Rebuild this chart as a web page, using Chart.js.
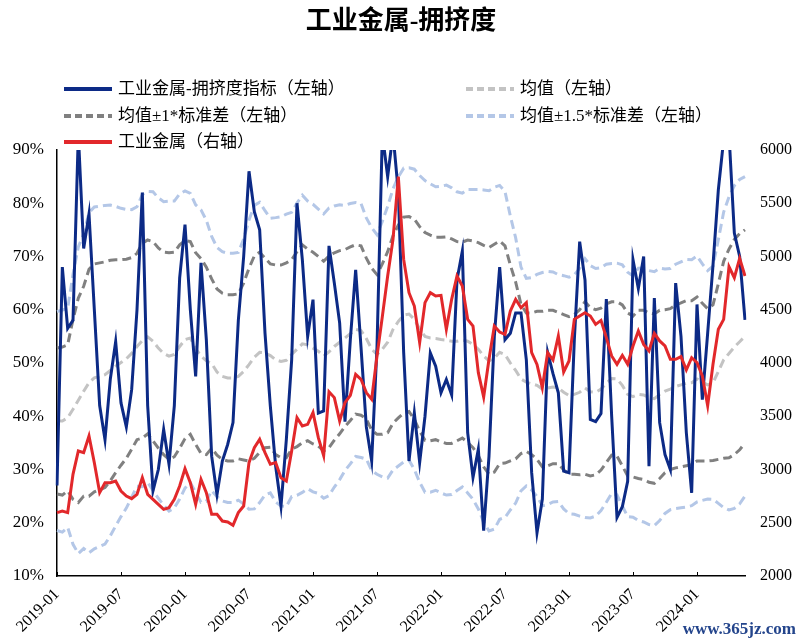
<!DOCTYPE html>
<html>
<head>
<meta charset="utf-8">
<script src="https://cdn.jsdelivr.net/npm/chart.js@4.4.1/dist/chart.umd.min.js"></script>
<style>
  html, body { margin: 0; padding: 0; background: #fff; }
</style>
</head>
<body>
<canvas id="c" width="803" height="644"></canvas>
<script>
// 工业金属-拥挤度, half-month samples
const chartTitle = '工业金属-拥挤度';
const xTickLabels = ['2019-01', '2019-07', '2020-01', '2020-07', '2021-01', '2021-07',
  '2022-01', '2022-07', '2023-01', '2023-07', '2024-01'];
const leftTicks = [10, 20, 30, 40, 50, 60, 70, 80, 90];
const rightTicks = [2000, 2500, 3000, 3500, 4000, 4500, 5000, 5500, 6000];

// crowding index, % (left axis)
const crowdVals = [
  27, 68, 56.5, 58, 93, 71.5, 78, 60, 42, 35.6,
  47, 54, 42.5, 38, 45, 60, 82, 42, 26, 30,
  37.5, 31, 42, 66, 76, 60, 47.5, 68.8, 54.4, 32.5,
  25.3, 31.6, 34.7, 38.8, 58, 70, 86, 78.4, 75, 55.6,
  41.9, 30.6, 23.1, 35.6, 50.6, 80, 69.4, 55, 61.9, 40.6,
  41, 72, 65, 57.5, 39, 54.4, 67.5, 53, 38, 31.6,
  53, 93, 85, 93, 82, 52, 31.6, 40.6, 31.3, 40,
  51.9, 49.4, 44.4, 46.9, 44, 65.6, 71, 36.9, 28.5, 33.8,
  18.5, 32.5, 55, 68, 54.4, 55.6, 59.4, 59.4, 50.6, 29.4,
  18.1, 24.4, 52, 48, 44.4, 29.7, 29.4, 54.4, 72.8, 65.6,
  39.4, 39, 40.5, 62, 40, 21, 23, 27.8, 69.4, 64,
  70, 30.6, 62.2, 38.8, 32.8, 30, 65, 55, 36.9, 25.6,
  61, 43.1, 55.6, 68.4, 82.5, 92, 93, 74.4, 70, 58.1
];

// index level (right axis)
const metalVals = [
  2595, 2610, 2595, 2955, 3174, 3158, 3315, 3064, 2783, 2876,
  2876, 2892, 2798, 2751, 2726, 2767, 2923, 2767, 2720, 2673,
  2626, 2642, 2720, 2845, 3008, 2876, 2673, 2908, 2783, 2579,
  2579, 2516, 2507, 2476, 2595, 2657, 3064, 3205, 3283, 3158,
  3049, 3064, 2923, 2892, 3174, 3487, 3409, 3424, 3534, 3299,
  3130, 3730, 3675, 3456, 3628, 3697, 3894, 3847, 3722, 3659,
  4066, 4435, 4817, 5161, 5750, 4973, 4660, 4535, 4191, 4567,
  4660, 4629, 4635, 4316, 4598, 4817, 4723, 4410, 4347, 3909,
  3680, 4035, 4347, 4291, 4269, 4488, 4598, 4519, 4566, 4097,
  3987, 3768, 4097, 4028, 4254, 3916, 4019, 4410, 4441, 4472,
  4441, 4363, 4400, 4238, 4066, 3988, 4072, 3988, 4160, 4300,
  4175, 4113, 4279, 4207, 4160, 4035, 4035, 4060, 3935, 4050,
  4004, 3878, 3600, 3988, 4316, 4410, 4904, 4801, 4982, 4817
];

// rolling mean and standard deviation of the index, %
const meanVals = [
  39.1, 39.1, 39.7, 41.3, 43, 44.7, 46.3, 47.2, 47.5, 47.8,
  48.6, 49.4, 50.1, 50.8, 51.8, 53.1, 54.2, 54.9, 54.1, 52.8,
  51.8, 51.3, 51.6, 53.1, 54.4, 54.7, 52.7, 51.3, 50.4, 49.9,
  48.3, 47.5, 47.2, 47.2, 47.5, 48.4, 49.7, 51.1, 52, 51.9,
  51.4, 50.6, 50.3, 50.5, 51.6, 52.6, 53.6, 53.4, 52.8, 52.2,
  51.3, 52.1, 53.1, 53.9, 54.7, 55.5, 56.3, 56.1, 54.6, 52.6,
  51.6, 52.6, 53.9, 56.3, 57.8, 59, 59.2, 58.2, 56.4, 55,
  54.7, 54.6, 54.4, 54.3, 54.1, 54.1, 54.3, 54.1, 53.5, 52.6,
  51.3, 50.4, 50.9, 52, 51.6, 50, 48.6, 47, 46.4, 46.1,
  45.8, 45.1, 45.3, 45.5, 45.3, 44.5, 43.9, 44.1, 44.5, 45.3,
  44.6, 44.5, 45.1, 46.2, 47.1, 47, 45.8, 44.1, 43.7, 44.1,
  44, 43.5, 43.3, 44.1, 44.7, 45.1, 45.6, 45.9, 46.2, 46.3,
  47, 46.4, 45.9, 46.3, 48.4, 50.6, 51.8, 53, 54, 55
];
const sdVals = [
  13.7, 13.9, 13.7, 16.9, 19.2, 19.7, 21.3, 21.4, 21.3, 21.2,
  20.7, 20, 19.3, 18.7, 18, 17.5, 18.3, 18.2, 18.7, 18.8,
  19, 19.4, 19.2, 19.1, 18.6, 18.1, 18, 18.3, 17.6, 15.9,
  15.6, 15.6, 15.6, 15.6, 15.5, 16.6, 18.1, 19, 18.8, 17.8,
  17.2, 17.8, 18.1, 18.3, 17.8, 18.3, 18.6, 18, 18, 17.8,
  17.8, 18, 17.6, 17.2, 16.6, 16.3, 15.9, 15.9, 15.1, 15.2,
  15, 16, 17, 17.6, 18.1, 18.4, 18.3, 18.8, 19.2, 19.5,
  19.3, 19, 19.2, 19.4, 19.2, 18.7, 18.4, 19, 19.4, 20,
  20.8, 21.3, 21.4, 20.9, 20.4, 18.4, 16.6, 14, 13, 13.3,
  13.9, 14.6, 14.6, 14.4, 14.2, 14.6, 14.8, 15, 15.5, 16.2,
  15.8, 15.5, 15.2, 14.9, 14.4, 14.5, 15.1, 15.3, 15.1, 15.8,
  15.9, 15.9, 15.9, 15.8, 15.3, 15.1, 15.3, 15.4, 15.5, 15.4,
  15.4, 14.8, 14.3, 14.6, 16.5, 18.5, 19.6, 20.2, 20.3, 20
];

// x categories: 1st and 16th of each month from 2019-01
const dates = [];
for (let y = 2019; y <= 2024; y++) {
  for (let mo = 1; mo <= 12; mo++) {
    const mm = String(mo).padStart(2, '0');
    dates.push(y + '-' + mm + '-01', y + '-' + mm + '-16');
  }
}
dates.length = crowdVals.length;

const band = (k) => meanVals.map((m, i) => +(m + k * sdVals[i]).toFixed(2));

const serif = '"Liberation Serif", "Noto Sans CJK SC", serif';
const dash = [9, 5];

function line(label, data, color, extra) {
  return Object.assign({
    label: label,
    data: data,
    borderColor: color,
    backgroundColor: color,
    borderWidth: 3,
    pointRadius: 0,
    tension: 0,
    fill: false,
    yAxisID: 'y'
  }, extra || {});
}

const datasets = [
  line('工业金属-拥挤度指标（左轴）', crowdVals, '#0c2a86', { order: 1 }),
  line('均值（左轴）', meanVals, '#c3c3c3', { borderDash: dash, order: 4 }),
  line('均值±1*标准差（左轴）', band(1), '#808080', { borderDash: dash, order: 3 }),
  line('均值±1*标准差（左轴）', band(-1), '#808080', { borderDash: dash, order: 3 }),
  line('均值±1.5*标准差（左轴）', band(1.5), '#b4c7e7', { borderDash: dash, order: 5 }),
  line('均值±1.5*标准差（左轴）', band(-1.5), '#b4c7e7', { borderDash: dash, order: 5 }),
  line('工业金属（右轴）', metalVals, '#e2282b', { yAxisID: 'y1', order: 0 })
];

// which datasets show in the legend, row by row, two columns
const legendOrder = [0, 1, 2, 4, 6];

const decor = {
  id: 'decor',
  afterDatasetsDraw(chart) {
    const ctx = chart.ctx;
    const xs = chart.scales.x;
    const bottom = chart.chartArea.bottom;
    ctx.save();
    ctx.strokeStyle = '#000';
    ctx.lineWidth = 1;
    xs.ticks.forEach((t, i) => {
      if (t.label === null || t.label === undefined || t.label === '') return;
      const px = Math.round(xs.getPixelForTick(i)) + 0.5;
      ctx.beginPath();
      ctx.moveTo(px, bottom);
      ctx.lineTo(px, bottom - 4);
      ctx.stroke();
    });
    ctx.restore();
  },
  afterDraw(chart) {
    const ctx = chart.ctx;
    ctx.save();
    // title
    ctx.fillStyle = '#000';
    ctx.font = 'bold 26px ' + serif;
    ctx.textAlign = 'center';
    ctx.textBaseline = 'middle';
    ctx.fillText(chartTitle, 401, 22);

    // legend
    const cols = [64, 466];
    const rows = [89, 116, 142];
    ctx.font = '17px ' + serif;
    ctx.textAlign = 'left';
    legendOrder.forEach((di, n) => {
      const ds = chart.data.datasets[di];
      const x = cols[n % 2];
      const y = rows[Math.floor(n / 2)];
      ctx.strokeStyle = ds.borderColor;
      ctx.lineWidth = 4;
      ctx.setLineDash(ds.borderDash ? [7, 4] : []);
      ctx.beginPath();
      ctx.moveTo(x, y);
      ctx.lineTo(x + 48, y);
      ctx.stroke();
      ctx.setLineDash([]);
      ctx.fillStyle = '#000';
      ctx.fillText(ds.label, x + 54, y + 1);
    });

    // site mark, bottom right
    ctx.font = 'bold 17px ' + serif;
    ctx.fillStyle = '#24458c';
    ctx.textAlign = 'right';
    ctx.fillText('www.365jz.com', 796, 630);
    ctx.restore();
  }
};

new Chart(document.getElementById('c'), {
  type: 'line',
  data: { labels: dates, datasets: datasets },
  options: {
    responsive: false,
    animation: false,
    devicePixelRatio: 1,
    layout: { padding: { top: 150, left: 0, right: 0, bottom: 0 } },
    plugins: {
      legend: { display: false },
      title: { display: false },
      tooltip: { enabled: false }
    },
    scales: {
      x: {
        type: 'category',
        grid: { display: false, drawTicks: false },
        border: { display: true, color: '#000', width: 1.5 },
        ticks: {
          autoSkip: false,
          minRotation: 45,
          maxRotation: 45,
          padding: 9,
          color: '#000',
          font: { family: serif, size: 16 },
          callback(value) {
            const d = this.getLabelForValue(value);
            const ym = d.slice(0, 7);
            return (d.endsWith('-01') && xTickLabels.includes(ym)) ? ym : null;
          }
        },
        afterFit(s) { s.height = 68; }
      },
      y: {
        position: 'left',
        min: leftTicks[0],
        max: leftTicks[leftTicks.length - 1],
        afterBuildTicks(s) { s.ticks = leftTicks.map(v => ({ value: v })); },
        grid: { display: false, drawTicks: false },
        border: { display: true, color: '#000', width: 1.5 },
        ticks: {
          padding: 13,
          color: '#000',
          font: { family: serif, size: 17 },
          callback: v => v + '%'
        },
        afterFit(s) { s.width = 57; }
      },
      y1: {
        position: 'right',
        min: rightTicks[0],
        max: rightTicks[rightTicks.length - 1],
        afterBuildTicks(s) { s.ticks = rightTicks.map(v => ({ value: v })); },
        grid: { display: false, drawTicks: false },
        border: { display: false },
        ticks: {
          padding: 15,
          color: '#000',
          font: { family: serif, size: 16 },
          callback: v => String(v)
        },
        afterFit(s) { s.width = 58; }
      }
    }
  },
  plugins: [decor]
});
</script>
</body>
</html>
